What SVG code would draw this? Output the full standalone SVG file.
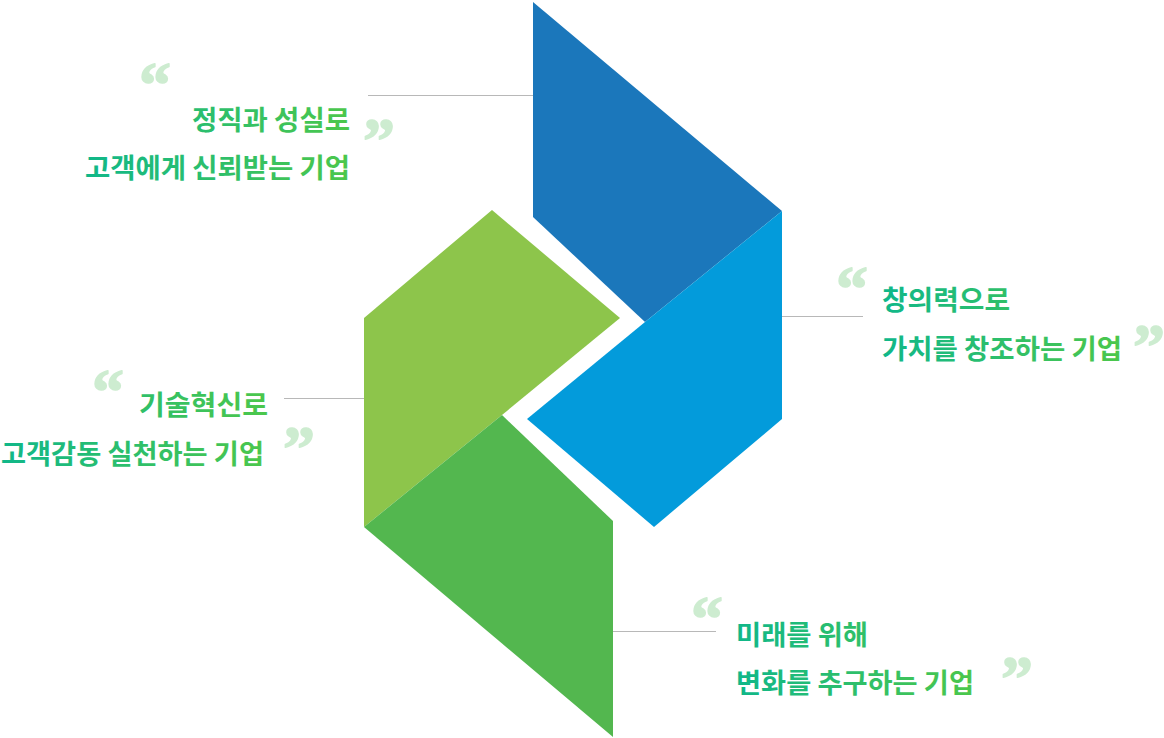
<svg xmlns="http://www.w3.org/2000/svg" width="1164" height="738" viewBox="0 0 1164 738">
<defs>
<linearGradient id="tg" x1="0" y1="0" x2="1" y2="0">
<stop offset="0" stop-color="#10b789"/>
<stop offset="1" stop-color="#4cc74b"/>
</linearGradient>
<style>
.lbl{font-family:"Noto Sans CJK KR","Noto Sans",sans-serif;font-size:27px;font-weight:700;fill:url(#tg)}
.q{font-family:"Liberation Serif","DejaVu Serif",serif;font-size:64px;font-weight:bold;fill:#cdecd0;stroke:#cdecd0;stroke-width:1.5;stroke-linejoin:round}
.ln{stroke:#b8b8b8;stroke-width:1;fill:none}
</style>
</defs>
<rect width="1164" height="738" fill="#ffffff"/>
<g id="shape-darkblue"><polygon points="533,2 782,211 645,322 533,217" fill="#1b77bb"/></g>
<g id="shape-lightblue"><polygon points="645,322 782,211 782,419 654,527 527,419" fill="#039bdb"/></g>
<g id="shape-lightgreen"><polygon points="492,210 620,318 502,415 364,527 364,318" fill="#8dc54b"/></g>
<g id="shape-green"><polygon points="502,415 613,521 613,737 364,527" fill="#53b74f"/></g>
<g id="connectors">
<line class="ln" x1="368" y1="95.5" x2="533" y2="95.5"/>
<line class="ln" x1="782" y1="316.5" x2="863" y2="316.5"/>
<line class="ln" x1="284" y1="398.5" x2="364" y2="398.5"/>
<line class="ln" x1="613" y1="631.5" x2="716" y2="631.5"/>
</g>
<g id="label-1">
<text class="q" x="139" y="106">“</text>
<text class="q" x="363" y="162">”</text>
<text class="lbl"><tspan x="192" y="130" textLength="158" lengthAdjust="spacingAndGlyphs">정직과 성실로</tspan><tspan x="85" y="178" textLength="265" lengthAdjust="spacingAndGlyphs">고객에게 신뢰받는 기업</tspan></text>
</g>
<g id="label-2">
<text class="q" x="836" y="310">“</text>
<text class="q" x="1133" y="368">”</text>
<text class="lbl"><tspan x="882" y="310" textLength="128" lengthAdjust="spacingAndGlyphs">창의력으로</tspan><tspan x="882" y="359" textLength="240" lengthAdjust="spacingAndGlyphs">가치를 창조하는 기업</tspan></text>
</g>
<g id="label-3">
<text class="q" x="92" y="413">“</text>
<text class="q" x="283" y="470">”</text>
<text class="lbl"><tspan x="139" y="415" textLength="129" lengthAdjust="spacingAndGlyphs">기술혁신로</tspan><tspan x="1" y="464" textLength="263" lengthAdjust="spacingAndGlyphs">고객감동 실천하는 기업</tspan></text>
</g>
<g id="label-4">
<text class="q" x="691" y="640">“</text>
<text class="q" x="1001" y="700">”</text>
<text class="lbl"><tspan x="736" y="645" textLength="132" lengthAdjust="spacingAndGlyphs">미래를 위해</tspan><tspan x="736" y="693" textLength="238" lengthAdjust="spacingAndGlyphs">변화를 추구하는 기업</tspan></text>
</g>
</svg>
